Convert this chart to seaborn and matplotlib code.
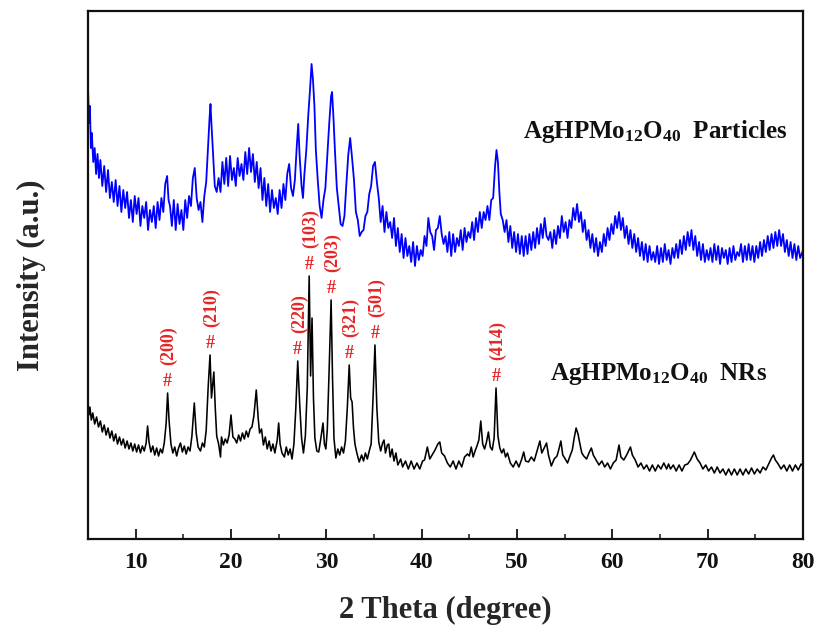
import numpy as np
import pandas as pd
import matplotlib
matplotlib.use("Agg")
import matplotlib.pyplot as plt
import seaborn as sns
from matplotlib.ticker import MultipleLocator

# ---------------- data ----------------
particles_theta = [
    5.0, 5.1, 5.2, 5.3, 5.4, 5.55, 5.7, 5.85, 6.0, 6.15,
    6.3, 6.5, 6.7, 6.9, 7.1, 7.3, 7.5, 7.7, 7.9, 8.1,
    8.3, 8.5, 8.7, 8.9, 9.1, 9.3, 9.5, 9.7, 9.9, 10.1,
    10.3, 10.5, 10.7, 10.9, 11.1, 11.3, 11.5, 11.7, 11.9, 12.1,
    12.3, 12.5, 12.7, 12.9, 13.1, 13.3, 13.45, 13.6, 13.8, 14.0,
    14.2, 14.4, 14.6, 14.8, 15.0, 15.2, 15.4, 15.6, 15.8, 16.0,
    16.2, 16.4, 16.6, 16.8, 17.0, 17.2, 17.4, 17.6, 17.75, 17.85,
    17.95, 18.1, 18.3, 18.5, 18.7, 18.9, 19.1, 19.3, 19.5, 19.7,
    19.9, 20.1, 20.3, 20.5, 20.7, 20.9, 21.1, 21.3, 21.5, 21.7,
    21.9, 22.1, 22.3, 22.5, 22.7, 22.9, 23.1, 23.3, 23.5, 23.7,
    23.9, 24.1, 24.3, 24.5, 24.7, 24.9, 25.1, 25.3, 25.5, 25.7,
    25.9, 26.1, 26.3, 26.5, 26.7, 26.9, 27.05, 27.2, 27.4, 27.55,
    27.7, 27.9, 28.1, 28.3, 28.45, 28.6, 28.75, 28.9, 29.1, 29.3,
    29.5, 29.7, 29.9, 30.1, 30.3, 30.5, 30.6, 30.75, 30.9, 31.1,
    31.3, 31.5, 31.7, 31.9, 32.1, 32.3, 32.5, 32.7, 32.9, 33.1,
    33.3, 33.5, 33.7, 33.9, 34.1, 34.3, 34.5, 34.7, 34.9, 35.1,
    35.3, 35.5, 35.7, 35.9, 36.1, 36.3, 36.5, 36.7, 36.9, 37.1,
    37.3, 37.5, 37.7, 37.9, 38.1, 38.3, 38.5, 38.7, 38.9, 39.1,
    39.3, 39.5, 39.7, 39.9, 40.1, 40.3, 40.5, 40.7, 40.9, 41.1,
    41.3, 41.5, 41.7, 41.9, 42.1, 42.3, 42.5, 42.7, 42.9, 43.1,
    43.3, 43.5, 43.7, 43.9, 44.1, 44.3, 44.5, 44.7, 44.9, 45.1,
    45.3, 45.5, 45.7, 45.9, 46.1, 46.3, 46.5, 46.7, 46.9, 47.1,
    47.3, 47.5, 47.7, 47.85, 48.0, 48.15, 48.3, 48.5, 48.7, 48.9,
    49.1, 49.3, 49.5, 49.7, 49.9, 50.1, 50.3, 50.5, 50.7, 50.9,
    51.1, 51.3, 51.5, 51.7, 51.9, 52.1, 52.3, 52.5, 52.7, 52.9,
    53.1, 53.3, 53.5, 53.7, 53.9, 54.1, 54.3, 54.5, 54.7, 54.9,
    55.1, 55.3, 55.5, 55.7, 55.9, 56.1, 56.3, 56.5, 56.7, 56.9,
    57.1, 57.3, 57.5, 57.7, 57.9, 58.1, 58.3, 58.5, 58.7, 58.9,
    59.1, 59.3, 59.5, 59.7, 59.9, 60.1, 60.3, 60.5, 60.7, 60.9,
    61.1, 61.3, 61.5, 61.7, 61.9, 62.1, 62.3, 62.5, 62.7, 62.9,
    63.1, 63.3, 63.5, 63.7, 63.9, 64.1, 64.3, 64.5, 64.7, 64.9,
    65.1, 65.3, 65.5, 65.7, 65.9, 66.1, 66.3, 66.5, 66.7, 66.9,
    67.1, 67.3, 67.5, 67.7, 67.9, 68.1, 68.3, 68.5, 68.7, 68.9,
    69.1, 69.3, 69.5, 69.7, 69.9, 70.1, 70.3, 70.5, 70.7, 70.9,
    71.1, 71.3, 71.5, 71.7, 71.9, 72.1, 72.3, 72.5, 72.7, 72.9,
    73.1, 73.3, 73.5, 73.7, 73.9, 74.1, 74.3, 74.5, 74.7, 74.9,
    75.1, 75.3, 75.5, 75.7, 75.9, 76.1, 76.3, 76.5, 76.7, 76.9,
    77.1, 77.3, 77.5, 77.7, 77.9, 78.1, 78.3, 78.5, 78.7, 78.9,
    79.1, 79.3, 79.5, 79.7, 80.0,
]
particles_intensity = [
    461, 425, 442, 400, 415, 386, 400, 374, 394, 370,
    388, 362, 382, 356, 378, 350, 366, 346, 368, 342,
    362, 336, 358, 340, 356, 330, 348, 326, 352, 334,
    350, 322, 342, 330, 346, 318, 338, 326, 342, 320,
    346, 328, 350, 336, 364, 372, 348, 342, 322, 348,
    318, 344, 324, 338, 318, 348, 330, 352, 342, 370,
    380, 350, 338, 346, 326, 352, 366, 402, 430, 444,
    424, 398, 362, 356, 370, 356, 386, 364, 390, 362,
    392, 368, 380, 362, 390, 372, 384, 368, 396, 374,
    400, 376, 394, 366, 386, 360, 380, 348, 370, 342,
    364, 336, 358, 340, 350, 334, 358, 340, 364, 348,
    374, 384, 360, 352, 368, 402, 424, 392, 362, 350,
    374, 398, 432, 460, 484, 468, 442, 398, 368, 342,
    330, 348, 360, 392, 424, 452, 456, 430, 398, 360,
    342, 324, 322, 332, 364, 393, 410, 390, 368, 336,
    328, 312, 316, 318, 332, 336, 354, 362, 382, 386,
    366, 350, 326, 342, 316, 336, 320, 326, 310, 330,
    302, 320, 296, 314, 290, 310, 292, 302, 286, 306,
    282, 302, 288, 298, 292, 312, 302, 330, 316, 312,
    298, 318, 320, 332, 314, 304, 312, 296, 316, 292,
    314, 296, 310, 302, 318, 298, 320, 306, 316, 310,
    326, 308, 330, 316, 336, 320, 336, 328, 342, 328,
    348, 350, 382, 398, 386, 356, 334, 328, 316, 328,
    306, 322, 300, 316, 296, 314, 294, 312, 292, 312,
    294, 314, 298, 316, 300, 320, 304, 324, 310, 330,
    312, 308, 316, 300, 318, 304, 322, 310, 332, 316,
    326, 310, 328, 320, 340, 328, 344, 326, 336, 316,
    328, 308, 318, 300, 314, 296, 310, 292, 306, 296,
    314, 302, 320, 308, 324, 314, 332, 320, 336, 318,
    330, 310, 322, 304, 318, 300, 314, 296, 310, 292,
    306, 288, 304, 286, 302, 288, 296, 286, 302, 284,
    300, 286, 304, 288, 298, 284, 300, 290, 304, 290,
    308, 294, 312, 298, 316, 302, 318, 298, 312, 292,
    306, 288, 304, 286, 298, 288, 300, 286, 304, 288,
    302, 284, 300, 290, 298, 284, 300, 286, 302, 288,
    296, 292, 304, 286, 302, 288, 304, 288, 302, 286,
    302, 290, 306, 292, 308, 296, 312, 298, 314, 300,
    316, 302, 318, 302, 314, 296, 308, 292, 306, 290,
    304, 288, 302, 290, 298,
]

nrs_theta = [
    5.0, 5.1, 5.2, 5.35, 5.5, 5.7, 5.9, 6.1, 6.3, 6.5,
    6.7, 6.9, 7.1, 7.3, 7.5, 7.7, 7.9, 8.1, 8.3, 8.5,
    8.7, 8.9, 9.1, 9.3, 9.5, 9.7, 9.9, 10.1, 10.3, 10.5,
    10.7, 10.9, 11.1, 11.25, 11.4, 11.6, 11.8, 12.0, 12.2, 12.4,
    12.6, 12.8, 13.0, 13.2, 13.35, 13.5, 13.7, 13.9, 14.1, 14.3,
    14.5, 14.7, 14.9, 15.1, 15.3, 15.5, 15.7, 15.9, 16.15, 16.35,
    16.55, 16.8, 17.0, 17.2, 17.4, 17.6, 17.8, 17.95, 18.05, 18.2,
    18.35, 18.5, 18.7, 18.9, 19.0, 19.2, 19.4, 19.6, 19.8, 20.0,
    20.2, 20.4, 20.6, 20.8, 21.0, 21.2, 21.4, 21.6, 21.8, 22.0,
    22.2, 22.4, 22.65, 22.85, 23.0, 23.2, 23.4, 23.6, 23.8, 24.0,
    24.2, 24.4, 24.6, 24.85, 25.0, 25.15, 25.35, 25.6, 25.8, 26.0,
    26.2, 26.4, 26.6, 26.8, 27.0, 27.2, 27.4, 27.6, 27.8, 28.0,
    28.2, 28.35, 28.5, 28.65, 28.8, 29.0, 29.2, 29.4, 29.65, 29.8,
    29.95, 30.1, 30.3, 30.5, 30.65, 30.8, 31.0, 31.2, 31.4, 31.6,
    31.8, 32.0, 32.2, 32.4, 32.55, 32.7, 32.85, 33.0, 33.2, 33.45,
    33.7, 33.9, 34.1, 34.3, 34.5, 34.7, 34.9, 35.1, 35.3, 35.5,
    35.7, 35.9, 36.05, 36.2, 36.4, 36.55, 36.7, 36.9, 37.1, 37.3,
    37.5, 37.8, 38.0, 38.3, 38.6, 38.9, 39.2, 39.5, 39.8, 40.1,
    40.3, 40.6, 40.85, 41.1, 41.4, 41.7, 41.9, 42.1, 42.4, 42.7,
    43.0, 43.3, 43.6, 43.9, 44.2, 44.5, 44.8, 45.0, 45.2, 45.4,
    45.6, 45.8, 46.0, 46.2, 46.4, 46.6, 46.8, 47.0, 47.2, 47.4,
    47.6, 47.8, 48.0, 48.2, 48.4, 48.6, 48.8, 49.0, 49.3, 49.6,
    49.9, 50.2, 50.5, 50.7, 50.9, 51.2, 51.5, 51.8, 52.1, 52.4,
    52.6, 52.8, 53.1, 53.3, 53.6, 53.9, 54.2, 54.4, 54.6, 54.8,
    55.0, 55.3, 55.6, 55.8, 56.0, 56.2, 56.4, 56.6, 56.8, 57.0,
    57.3, 57.55, 57.8, 58.0, 58.3, 58.6, 58.9, 59.2, 59.5, 59.8,
    60.1, 60.4, 60.7, 60.9, 61.2, 61.5, 61.9, 62.1, 62.4, 62.7,
    63.0, 63.3, 63.6, 63.9, 64.2, 64.5, 64.8, 65.1, 65.4, 65.7,
    65.9, 66.1, 66.4, 66.7, 67.0, 67.3, 67.6, 67.9, 68.2, 68.6,
    68.9, 69.2, 69.5, 69.8, 70.1, 70.4, 70.7, 71.0, 71.3, 71.6,
    71.9, 72.2, 72.5, 72.8, 73.1, 73.4, 73.7, 74.0, 74.3, 74.6,
    74.9, 75.2, 75.5, 75.8, 76.1, 76.4, 76.7, 76.9, 77.1, 77.4,
    77.7, 78.0, 78.3, 78.6, 78.9, 79.2, 79.5, 79.8, 80.0,
]
nrs_intensity = [
    143, 133, 141, 128, 135, 124, 131, 121, 127, 116,
    123, 113, 120, 110, 117, 107, 114, 104, 111, 103,
    109, 100, 107, 99, 105, 97, 104, 96, 103, 95,
    102, 97, 105, 122, 106, 96, 102, 93, 100, 92,
    99, 95, 105, 125, 155, 128, 104, 95, 101, 92,
    100, 105, 96, 102, 94, 101, 97, 112, 145, 115,
    101, 97, 105, 101, 118, 160, 193, 150, 160, 176,
    140, 112, 104, 91, 111, 103, 109, 105, 113, 133,
    111, 109, 105, 113, 107, 115, 109, 117, 111, 119,
    121, 132, 158, 130, 115, 119, 103, 111, 99, 107,
    97, 104, 95, 108, 125, 104, 95, 91, 101, 93,
    99, 89, 104, 140, 187, 145, 110, 95, 112, 160,
    272, 172, 230, 150, 110, 97, 96, 108, 125, 104,
    99, 118, 180, 248, 170, 110, 90, 99, 93, 101,
    95, 107, 140, 183, 150, 146, 120, 104, 95, 86,
    93, 87, 95, 89, 97, 104, 150, 203, 140, 106,
    97, 105, 108, 95, 103, 104, 91, 99, 87, 95,
    83, 89, 81, 87, 79, 87, 79, 85, 79, 87,
    88, 101, 89, 93, 98, 104, 106, 95, 92, 85,
    81, 87, 79, 87, 81, 91, 94, 92, 101, 91,
    97, 102, 108, 127, 104, 99, 106, 116, 101, 98,
    110, 160, 112, 100, 95, 99, 91, 95, 85, 81,
    87, 81, 89, 96, 87, 86, 91, 87, 97, 107,
    95, 99, 105, 93, 82, 89, 92, 99, 107, 93,
    90, 85, 93, 98, 110, 120, 114, 104, 95, 92,
    89, 95, 100, 93, 88, 83, 87, 81, 85, 79,
    85, 88, 103, 91, 88, 93, 101, 93, 88, 81,
    85, 79, 83, 77, 83, 77, 83, 79, 85, 79,
    84, 79, 83, 77, 83, 77, 83, 84, 88, 96,
    89, 85, 79, 83, 77, 81, 75, 81, 75, 79,
    73, 79, 73, 79, 73, 79, 73, 79, 74, 80,
    74, 79, 75, 81, 78, 84, 90, 93, 88, 84,
    79, 83, 77, 83, 77, 83, 78, 84, 82,
]

hkl_labels = ["(200)", "(210)", "(220)", "(103)", "(203)", "(321)", "(501)", "(414)"]
hkl_theta = [13.35, 17.8, 27.0, 28.2, 30.5, 32.4, 35.1, 47.8]

sample_names = [r"AgHPMo$_{12}$O$_{40}$  Particles", r"AgHPMo$_{12}$O$_{40}$  NRs"]
sample_text_pos = [(50.6, 410), (53.5, 168)]

x_ticks = [10, 20, 30, 40, 50, 60, 70, 80]

assert len(particles_theta) == len(particles_intensity)
assert len(nrs_theta) == len(nrs_intensity)

# ---------------- style ----------------
sns.set_theme(style="ticks")
plt.rcParams["font.family"] = ["Liberation Serif", "DejaVu Serif"]
plt.rcParams["font.weight"] = "bold"
plt.rcParams["axes.labelweight"] = "bold"
plt.rcParams["mathtext.fontset"] = "custom"
plt.rcParams["mathtext.rm"] = "Liberation Serif:bold"
plt.rcParams["mathtext.bf"] = "Liberation Serif:bold"
plt.rcParams["mathtext.it"] = "Liberation Serif:bold"
plt.rcParams["mathtext.default"] = "bf"

fig = plt.figure(figsize=(8.2, 6.34), dpi=100)
ax = fig.add_axes([88 / 820, 1 - 539 / 634, (803 - 88) / 820, (539 - 11) / 634])

df_p = pd.DataFrame({"theta": particles_theta, "intensity": particles_intensity})
df_n = pd.DataFrame({"theta": nrs_theta, "intensity": nrs_intensity})

sns.lineplot(data=df_p, x="theta", y="intensity", sort=False, estimator=None,
             color="#0000ff", lw=1.3, ax=ax)
sns.lineplot(data=df_n, x="theta", y="intensity", sort=False, estimator=None,
             color="#000000", lw=1.15, ax=ax)

ax.set_xlim(5, 80)
ax.set_ylim(9, 537)
ax.set_xticks(x_ticks)
ax.xaxis.set_minor_locator(MultipleLocator(5))
ax.set_yticks([])
ax.tick_params(axis="x", which="major", direction="in", length=7, width=1.3,
               labelsize=17, pad=9, colors="#111111")
ax.tick_params(axis="x", which="minor", direction="in", length=3.5, width=1.2)
for lab in ax.get_xticklabels():
    lab.set_fontweight("bold")
for sp in ax.spines.values():
    sp.set_linewidth(1.6)
    sp.set_color("#111111")

ax.set_xlabel("2 Theta (degree)", fontsize=22, fontweight="bold", labelpad=17)
ax.set_ylabel("Intensity (a.u.)", fontsize=22, fontweight="bold", labelpad=30)

# peak annotations
red = "#e52626"
th_arr = np.asarray(nrs_theta)
in_arr = np.asarray(nrs_intensity)
for lab, th in zip(hkl_labels, hkl_theta):
    mask = np.abs(th_arr - th) <= 0.12
    yp = in_arr[mask].max()
    ax.annotate("#", xy=(th, yp), xytext=(0, 2), textcoords="offset points",
                ha="center", va="bottom", fontsize=13, color=red, fontweight="bold")
    ax.annotate(lab, xy=(th, yp), xytext=(1, 20), textcoords="offset points",
                ha="center", va="bottom", rotation=90, fontsize=13, color=red,
                fontweight="bold")

for name, (tx, ty) in zip(sample_names, sample_text_pos):
    ax.text(tx, ty, name, fontsize=18, fontweight="bold", ha="left", va="baseline",
            color="#111111")

fig.savefig("out.png", dpi=100)
